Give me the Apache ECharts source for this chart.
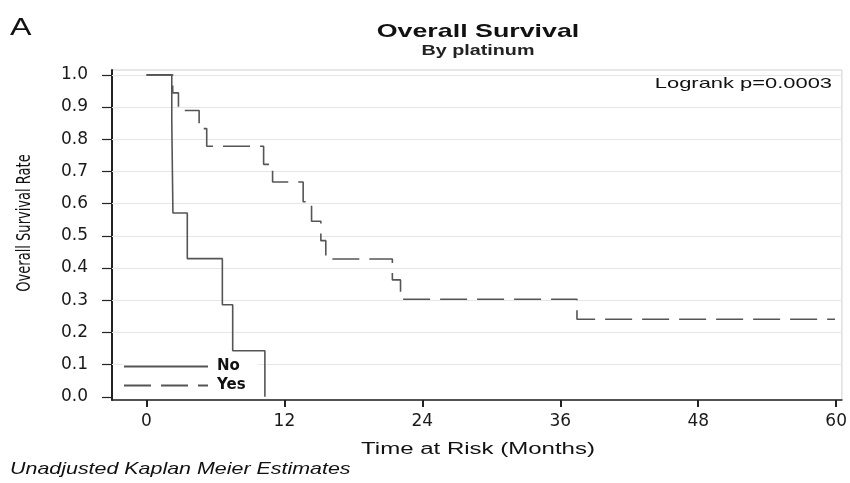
<!DOCTYPE html>
<html>
<head>
<meta charset="utf-8">
<script src="https://cdn.jsdelivr.net/npm/echarts@6/dist/echarts.min.js"></script>
<style>
html,body{margin:0;padding:0;background:#fff;}
#chart{width:850px;height:483px;}
</style>
</head>
<body>
<div id="chart"></div>
<script>
// ---- data ----
const noTime  = [0, 2.2, 2.3, 3.55, 6.6, 7.5, 10.3];
const noSurv  = [1.0, 0.857, 0.571, 0.429, 0.286, 0.143, 0.0];
const yesTime = [0, 2.28, 2.78, 4.58, 5.24, 10.19, 10.97, 13.63, 14.36, 15.17, 15.6, 21.39, 22.1, 37.45, 59.9];
const yesSurv = [1.0, 0.944, 0.889, 0.833, 0.778, 0.722, 0.667, 0.606, 0.545, 0.485, 0.428, 0.363, 0.303, 0.241, 0.241];
const xTicks = [0, 12, 24, 36, 48, 60];
const yTicks = [0.0, 0.1, 0.2, 0.3, 0.4, 0.5, 0.6, 0.7, 0.8, 0.9, 1.0];
const seriesNames = ['No', 'Yes'];
const titleText = 'Overall Survival';
const subText = 'By platinum';
const panelLabel = 'A';
const pText = 'Logrank p=0.0003';
const xName = 'Time at Risk (Months)';
const yName = 'Overall Survival Rate';
const footText = 'Unadjusted Kaplan Meier Estimates';

const noData = noTime.map((t, i) => [t, noSurv[i]]);
const yesData = yesTime.map((t, i) => [t, yesSurv[i]]);

const labelFont = 'DejaVu Sans';
const chart = echarts.init(document.getElementById('chart'), null, {renderer: 'canvas'});
chart.setOption({
  animation: false,
  backgroundColor: '#fff',
  grid: {left: 112, right: 6, top: 70, bottom: 83, show: true, borderColor: '#cfcfcf', borderWidth: 1},
  legend: {
    data: seriesNames,
    orient: 'vertical', left: 123, top: 357, padding: [2, 12, 2, 0],
    backgroundColor: '#fff',
    itemWidth: 84, itemHeight: 14, itemGap: 4,
    itemStyle: {opacity: 0},
    textStyle: {fontFamily: labelFont, fontWeight: 'bold', fontSize: 15, color: '#111', padding: [0, 0, 0, 4]}
  },
  xAxis: {
    type: 'value', min: -3, max: 60.5,
    axisLine: {show: true, onZero: false, lineStyle: {color: '#222', width: 1.5}},
    axisTick: {show: true, customValues: xTicks, length: 7, lineStyle: {color: '#222', width: 2}},
    axisLabel: {customValues: xTicks, margin: 13, fontFamily: labelFont, fontSize: 17, color: '#1a1a1a'},
    splitLine: {show: false}
  },
  yAxis: {
    type: 'value', min: -0.01, max: 1.015,
    axisLine: {show: true, onZero: false, lineStyle: {color: '#222', width: 2}},
    axisTick: {show: true, customValues: yTicks, length: 10, lineStyle: {color: '#222', width: 1.2}},
    axisLabel: {customValues: yTicks, margin: 24, fontFamily: labelFont, fontSize: 17, color: '#1a1a1a',
      formatter: v => Number(v).toFixed(1)},
    splitLine: {show: false}
  },
  series: [
    {
      name: 'grid', type: 'line', data: [], silent: true, z: 1,
      markLine: {
        silent: true, symbol: 'none', label: {show: false}, z: 1,
        lineStyle: {color: '#e6e6e6', width: 1, type: 'solid'},
        data: yTicks.filter(v => v > 0).map(v => ({yAxis: v}))
      }
    },
    {
      name: seriesNames[0], type: 'line', step: 'end', data: noData,
      symbol: 'none', showSymbol: false, z: 3,
      lineStyle: {color: '#555', width: 1.6, type: 'solid'},
      itemStyle: {color: '#555'}
    },
    {
      name: seriesNames[1], type: 'line', step: 'end', data: yesData,
      symbol: 'none', showSymbol: false, z: 3,
      lineStyle: {color: '#555', width: 1.6, type: [27, 10]},
      itemStyle: {color: '#555'}
    }
  ],
  graphic: [
    {type: 'text', x: 10, y: 28.5, scaleX: 1.4,
      style: {text: panelLabel, font: '23px "Liberation Sans"', fill: '#111', textAlign: 'left', textVerticalAlign: 'middle'}},
    {type: 'text', x: 478, y: 31.5, scaleX: 1.41,
      style: {text: titleText, font: 'bold 19px "Liberation Sans"', fill: '#111', textAlign: 'center', textVerticalAlign: 'middle'}},
    {type: 'text', x: 478, y: 51, scaleX: 1.41,
      style: {text: subText, font: 'bold 14px "Liberation Sans"', fill: '#222', textAlign: 'center', textVerticalAlign: 'middle'}},
    {type: 'text', x: 832, y: 84, scaleX: 1.46,
      style: {text: pText, font: '15px "Liberation Sans"', fill: '#111', textAlign: 'right', textVerticalAlign: 'middle'}},
    {type: 'text', x: 478, y: 450, scaleX: 1.5,
      style: {text: xName, font: '16px "Liberation Sans"', fill: '#111', textAlign: 'center', textVerticalAlign: 'middle'}},
    {type: 'text', x: 25, y: 223, rotation: Math.PI / 2, scaleY: 1.35,
      style: {text: yName, font: '14.5px "Liberation Sans Narrow", "DejaVu Sans Condensed", sans-serif', fill: '#111', textAlign: 'center', textVerticalAlign: 'middle'}},
    {type: 'text', x: 10, y: 469, scaleX: 1.26,
      style: {text: footText, font: 'italic 17px "Liberation Sans"', fill: '#111', textAlign: 'left', textVerticalAlign: 'middle'}}
  ]
});
</script>
</body>
</html>
